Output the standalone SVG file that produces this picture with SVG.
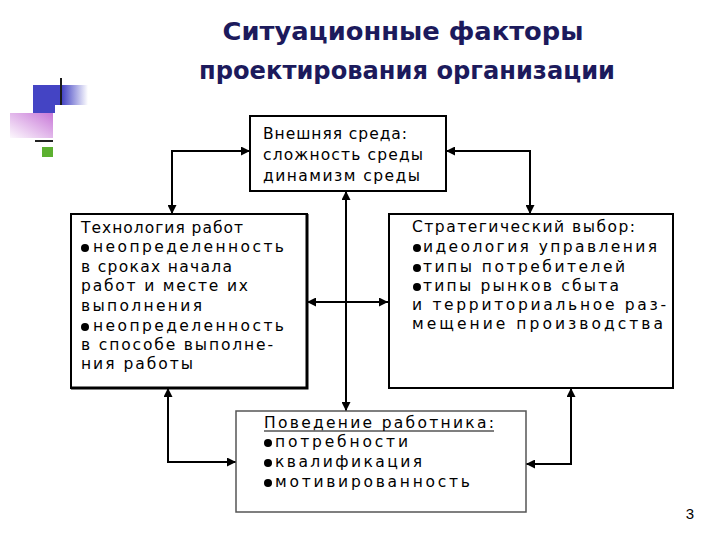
<svg xmlns="http://www.w3.org/2000/svg" width="720" height="540" viewBox="0 0 720 540">
<style>
.t{font-family:"DejaVu Sans","Liberation Sans",sans-serif;font-size:15.5px;fill:#000}
.title{font-family:"DejaVu Sans","Liberation Sans",sans-serif;font-size:24px;font-weight:bold;fill:#1c1a5c;text-anchor:middle}
.box{fill:#fff;stroke:#000;stroke-width:2}
.conn{fill:none;stroke:#000;stroke-width:2}
.bul{fill:#000}
</style>
<defs>
<marker id="ah" viewBox="0 0 10 10" refX="10" refY="5" markerWidth="9" markerHeight="9" markerUnits="userSpaceOnUse" orient="auto-start-reverse">
<path d="M0,0 L10,5 L0,10 z" fill="#000"/>
</marker>
<linearGradient id="gb" x1="0" y1="0" x2="1" y2="0">
<stop offset="0" stop-color="#4444c4"/>
<stop offset="1" stop-color="#4444c4" stop-opacity="0"/>
</linearGradient>
<linearGradient id="gp" x1="1" y1="0" x2="0" y2="1">
<stop offset="0" stop-color="#c878d8"/>
<stop offset="1" stop-color="#c878d8" stop-opacity="0.05"/>
</linearGradient>
</defs>
<rect width="720" height="540" fill="#fff"/>
<g id="decor">
<rect x="62" y="85" width="26" height="20" fill="url(#gb)"/>
<rect x="33" y="85" width="29" height="20" fill="#4444c4"/>
<rect x="33" y="105" width="22" height="8" fill="#4444c4"/>
<rect x="10" y="113" width="43" height="25" fill="url(#gp)"/>
<line x1="61" y1="78" x2="61" y2="105" stroke="#1a1a1a" stroke-width="2"/>
<line x1="35" y1="141" x2="53" y2="141" stroke="#222" stroke-width="2"/>
<rect x="42" y="147" width="11" height="10" fill="#5cb030"/>
</g>
<g id="title">
<text class="title" x="403" y="40" textLength="361" lengthAdjust="spacingAndGlyphs">Ситуационные факторы</text>
<text class="title" x="407" y="79" textLength="416" lengthAdjust="spacingAndGlyphs">проектирования организации</text>
</g>
<g id="connectors">
<path class="conn" d="M250,151 H172 V214" marker-start="url(#ah)" marker-end="url(#ah)"/>
<path class="conn" d="M446,151 H530 V214" marker-start="url(#ah)" marker-end="url(#ah)"/>
<path class="conn" d="M346,191 V411" stroke-width="2.5" marker-start="url(#ah)" marker-end="url(#ah)"/>
<path class="conn" d="M307,302 H388" stroke-width="1.5" marker-start="url(#ah)" marker-end="url(#ah)"/>
<path class="conn" d="M168,388 V462 H236" marker-start="url(#ah)" marker-end="url(#ah)"/>
<path class="conn" d="M571,388 V464 H526" marker-start="url(#ah)" marker-end="url(#ah)"/>
</g>
<g id="env">
<rect class="box" x="250" y="116" width="196" height="75"/>
<text class="t" x="263" y="139" textLength="144" lengthAdjust="spacing">Внешняя среда:</text>
<text class="t" x="263" y="160" textLength="160" lengthAdjust="spacing">сложность среды</text>
<text class="t" x="263" y="181" textLength="157" lengthAdjust="spacing">динамизм среды</text>
</g>
<g id="tech">
<rect class="box" x="71" y="214" width="236" height="174"/>
<path d="M307,214 V388 H71" fill="none" stroke="#000" stroke-width="3"/>
<text class="t" x="81" y="233" textLength="162" lengthAdjust="spacing">Технология работ</text>
<circle class="bul" cx="85" cy="248" r="4"/>
<text class="t" x="93" y="252" textLength="191" lengthAdjust="spacing">неопределенность</text>
<text class="t" x="81" y="272" textLength="151" lengthAdjust="spacing">в сроках начала</text>
<text class="t" x="81" y="291" textLength="167" lengthAdjust="spacing">работ и месте их</text>
<text class="t" x="81" y="311" textLength="121" lengthAdjust="spacing">выполнения</text>
<circle class="bul" cx="85" cy="327" r="4"/>
<text class="t" x="93" y="331" textLength="191" lengthAdjust="spacing">неопределенность</text>
<text class="t" x="81" y="350" textLength="192" lengthAdjust="spacing">в способе выполне-</text>
<text class="t" x="81" y="369" textLength="112" lengthAdjust="spacing">ния работы</text>
</g>
<g id="strategy">
<rect class="box" x="389" y="214" width="284" height="174" stroke-width="3"/>
<text class="t" x="412" y="232" textLength="223" lengthAdjust="spacing">Стратегический выбор:</text>
<circle class="bul" cx="417" cy="248" r="4"/>
<text class="t" x="423" y="252" textLength="234" lengthAdjust="spacing">идеология управления</text>
<circle class="bul" cx="417" cy="268" r="4"/>
<text class="t" x="423" y="272" textLength="202" lengthAdjust="spacing">типы потребителей</text>
<circle class="bul" cx="417" cy="287" r="4"/>
<text class="t" x="423" y="291" textLength="196" lengthAdjust="spacing">типы рынков сбыта</text>
<text class="t" x="412" y="310" textLength="254" lengthAdjust="spacing">и территориальное раз-</text>
<text class="t" x="412" y="329" textLength="251" lengthAdjust="spacing">мещение производства</text>
</g>
<g id="behavior">
<rect x="236" y="411" width="290" height="101" fill="#fff" stroke="#555" stroke-width="1.5"/>
<text class="t" x="264" y="428" textLength="230" lengthAdjust="spacing">Поведение работника:</text>
<line x1="264" y1="431" x2="494" y2="431" stroke="#000" stroke-width="1.2"/>
<circle class="bul" cx="268" cy="443" r="4"/>
<text class="t" x="275" y="447" textLength="133" lengthAdjust="spacing">потребности</text>
<circle class="bul" cx="268" cy="463" r="4"/>
<text class="t" x="275" y="467" textLength="147" lengthAdjust="spacing">квалификация</text>
<circle class="bul" cx="268" cy="483" r="4"/>
<text class="t" x="275" y="487" textLength="195" lengthAdjust="spacing">мотивированность</text>
</g>
<text x="690" y="519" font-family="Liberation Sans, sans-serif" font-size="15" text-anchor="middle" fill="#000">3</text>
</svg>
